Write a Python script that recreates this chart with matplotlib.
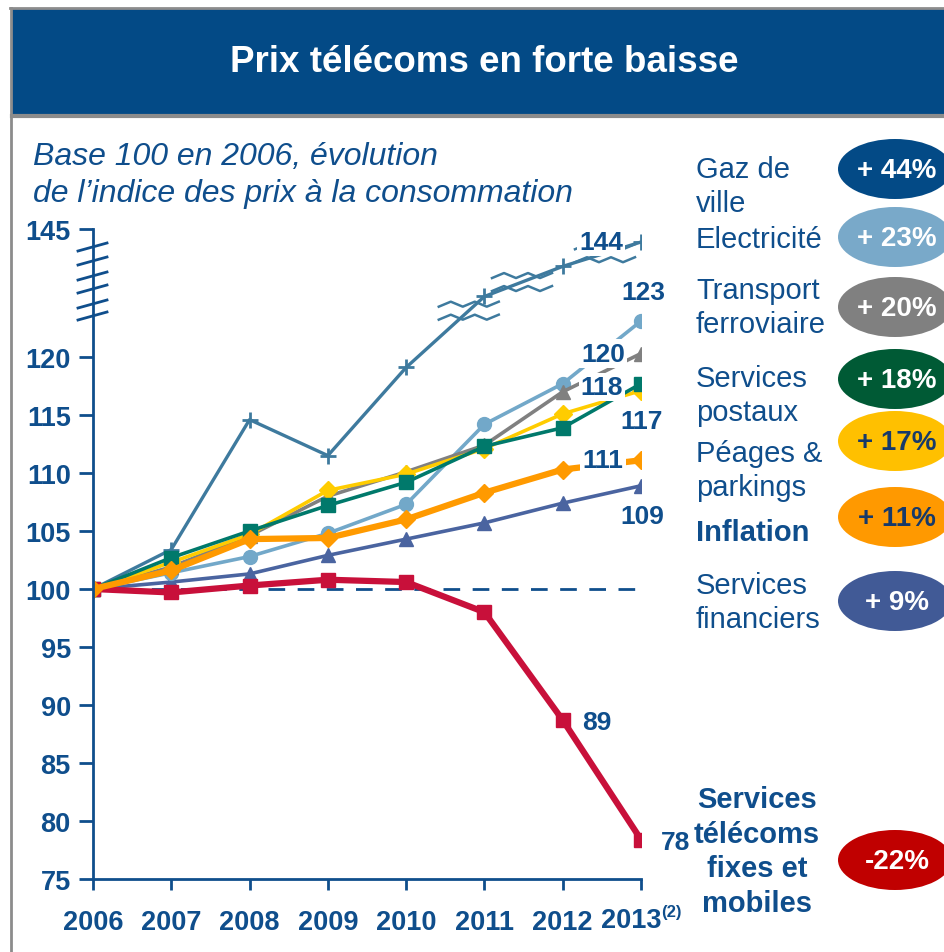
import numpy as np
import matplotlib
matplotlib.use("Agg")
import matplotlib.pyplot as plt
from matplotlib.patches import Ellipse, Rectangle
from matplotlib.transforms import IdentityTransform, blended_transform_factory

plt.rcParams['font.family'] = ['Liberation Sans', 'DejaVu Sans']

# Indice des prix, base 100 en 2006
years = [2006, 2007, 2008, 2009, 2010, 2011, 2012, 2013]
gaz = [100, 103.4, 114.6, 111.5, 119.1, 128.4, 135.8, 141.8]
electricite = [100, 101.4, 102.8, 104.8, 107.3, 114.2, 117.7, 123.1]
ferroviaire = [100, 101.9, 104.6, 108.0, 110.1, 112.4, 117.0, 120.3]
postaux = [100, 102.7, 105.0, 107.2, 109.2, 112.3, 113.9, 117.7]
peages = [100, 102.3, 104.7, 108.5, 109.9, 112.1, 115.1, 117.1]
inflation = [100, 101.6, 104.3, 104.4, 106.0, 108.3, 110.3, 111.1]
financiers = [100, 100.6, 101.3, 102.9, 104.3, 105.7, 107.4, 108.9]
telecoms = [100, 99.7, 100.3, 100.8, 100.6, 98.0, 88.7, 78.4]

y_ticks = [75, 80, 85, 90, 95, 100, 105, 110, 115, 120, 145]
year_labels = ["2006", "2007", "2008", "2009", "2010", "2011", "2012", "2013"]
note = "(2)"

legend_names = ["Gaz de\nville", "Electricité", "Transport\nferroviaire",
                "Services\npostaux", "Péages &\nparkings", "Inflation",
                "Services\nfinanciers"]
telecom_name = "Services\ntélécoms\nfixes et\nmobiles"
badges = ["+ 44%", "+ 23%", "+ 20%", "+ 18%", "+ 17%", "+ 11%", "+ 9%", "-22%"]

navy = '#0F4E8C'
c_gaz = '#3E7A9E'
c_elec = '#72A8C9'
c_rail = '#808080'
c_post = '#00796B'
c_peage = '#FFCC00'
c_infl = '#FF9A00'
c_fin = '#4A64A0'
c_tel = '#C8103A'

# axe y linéaire jusqu'à 123.5, compressé au-dessus (rupture vers 145)
brk = 123.5
top_lin = 100 + 360 / 11.6
k = (top_lin - brk) / (145 - brk)


def fwd(v):
    v = np.asarray(v, dtype=float)
    return np.where(v <= brk, v, brk + (v - brk) * k)


def inv(u):
    u = np.asarray(u, dtype=float)
    return np.where(u <= brk, u, brk + (u - brk) / k)


W, H = 944, 953
fig = plt.figure(figsize=(W / 100, H / 100), dpi=100)

# calque de fond en pixels (titre, légende, pastilles)
ov = fig.add_axes([0, 0, 1, 1])
ov.set_xlim(0, W)
ov.set_ylim(H, 0)
ov.axis('off')

ov.add_patch(Rectangle((12, 10), W - 12, 105, color='#034A86', lw=0))
ov.plot([10, W], [9, 9], color='#8C8C8C', lw=2)
ov.plot([11, 11], [9, H], color='#8C8C8C', lw=2)
ov.plot([12, W], [116.5, 116.5], color='#8C8C8C', lw=3)
ov.text(484, 63, "Prix télécoms en forte baisse", color='white',
        fontsize=26.5, fontweight='bold', ha='center', va='center')

subtitle = ["Base 100 en 2006, évolution", "de l’indice des prix à la consommation"]
for line, yy in zip(subtitle, [157, 194]):
    ov.text(33, yy, line, color=navy, fontsize=23, style='italic', va='center')

legend_y = [187, 240, 308, 396, 471, 533, 603]
for name, yy in zip(legend_names, legend_y):
    ov.text(696, yy, name, color=navy, fontsize=21, va='center', linespacing=1.3,
            fontweight='bold' if name == "Inflation" else 'normal')
ov.text(757, 852, telecom_name, color=navy, fontsize=21, fontweight='bold',
        ha='center', va='center', multialignment='center', linespacing=1.3)

badge_colors = ['#034A86', '#79A9C9', '#808080', '#005A35', '#FFC000', '#FF9900',
                '#415A96', '#C00000']
badge_text = ['white'] * 4 + ['#173A6A', '#173A6A'] + ['white', 'white']
badge_y = [170, 238, 308, 380, 442, 518, 602, 861]
for lab, col, tc, yy in zip(badges, badge_colors, badge_text, badge_y):
    ov.add_patch(Ellipse((895, yy), 114, 60, color=col, lw=0))
    ov.text(897, yy + 1, lab, color=tc, fontsize=20, fontweight='bold',
            ha='center', va='center')

# graphique
ax = fig.add_axes([93 / W, (H - 880) / H, 548 / W, 650 / H])
ax.set_facecolor('none')
ax.set_yscale('function', functions=(fwd, inv))
ax.set_xlim(2006, 2013)
ax.set_ylim(75, 145)

ax.axhline(100, color=navy, lw=2, dashes=(6, 4.5), zorder=1)

ax.plot(years, gaz, color=c_gaz, lw=2.4, marker='+', ms=11, mew=2, zorder=2)
ax.plot(years, financiers, color=c_fin, lw=2.6, marker='^', ms=10.5, zorder=2)
ax.plot(years, electricite, color=c_elec, lw=2.6, marker='o', ms=10, zorder=2)
ax.plot(years, ferroviaire, color=c_rail, lw=2.6, marker='^', ms=10.5, zorder=2)
ax.plot(years, peages, color=c_peage, lw=2.6, marker='D', ms=9, zorder=2)
ax.plot(years, postaux, color=c_post, lw=2.6, marker='s', ms=10, zorder=2)
ax.plot(years, telecoms, color=c_tel, lw=4.5, marker='s', ms=10, zorder=2)
ax.plot(years, inflation, color=c_infl, lw=4.5, marker='D', ms=9.5, zorder=2)

# ruptures sur la courbe du gaz
fig.canvas.draw()
wave_x = np.array([-30, -18, -6, 6, 18, 30])
wave_y = np.array([-2.5, 2.5, -2.5, 2.5, -2.5, 2.5])
for i, t in [(4, 0.8), (5, 0.48), (6, 0.54)]:
    p0 = ax.transData.transform((years[i], gaz[i]))
    p1 = ax.transData.transform((years[i + 1], gaz[i + 1]))
    cx, cy = p0 + t * (p1 - p0)
    for off in (6.5, -6.5):
        ax.plot(cx + wave_x, cy + off + wave_y, color=c_gaz, lw=1.8,
                transform=IdentityTransform(), clip_on=False, zorder=2)

# ruptures sur l'axe y
for py in [248, 262, 277, 290, 305, 317]:
    ax.plot([78, 107], [H - (py + 4), H - (py - 4)], color=navy, lw=2,
            transform=IdentityTransform(), clip_on=False, zorder=3)

# étiquettes de fin de série
end_labels = [("144", gaz, -40, 0, True), ("123", electricite, 2, 29, False),
              ("120", ferroviaire, -38, 0, True), ("118", postaux, -39, -3, True),
              ("117", peages, 1, -30, False), ("111", inflation, -38, 0, True),
              ("109", financiers, 1, -30, False), ("89", telecoms, 34, -2, False),
              ("78", telecoms, 35, -2, False)]
for lab, series, dx, dy, boxed in end_labels:
    idx = 6 if lab == "89" else 7
    ax.annotate(lab, (years[idx], series[idx]), xytext=(dx, dy),
                textcoords='offset pixels', ha='center', va='center',
                fontsize=19, fontweight='bold', color=navy, zorder=4,
                bbox=dict(fc='white', ec='none', pad=1.5) if boxed else None)

ax.spines['top'].set_visible(False)
ax.spines['right'].set_visible(False)
for s in ['left', 'bottom']:
    ax.spines[s].set_color(navy)
    ax.spines[s].set_linewidth(2)

ax.set_yticks(y_ticks)
ax.set_yticklabels([str(v) for v in y_ticks])
ax.tick_params(axis='y', direction='out', length=10, width=2, color=navy, pad=6,
               labelsize=19.5, labelcolor=navy)
ax.set_xticks(years)
ax.set_xticklabels(year_labels[:-1] + [""])
ax.tick_params(axis='x', direction='out', length=8, width=2, color=navy, pad=13.5,
               labelsize=19.5, labelcolor=navy)
for lbl in ax.get_xticklabels() + ax.get_yticklabels():
    lbl.set_fontweight('bold')

trans = blended_transform_factory(ax.transData, ax.transAxes)
ax.annotate(year_labels[-1], (years[-1], 0), xycoords=trans, xytext=(-10, -41),
            textcoords='offset pixels', ha='center', va='center', fontsize=19.5,
            fontweight='bold', color=navy, annotation_clip=False)
ax.annotate(note, (years[-1], 0), xycoords=trans, xytext=(20, -33),
            textcoords='offset pixels', ha='left', va='center', fontsize=12,
            fontweight='bold', color=navy, annotation_clip=False)

fig.savefig("out.png", dpi=100)
